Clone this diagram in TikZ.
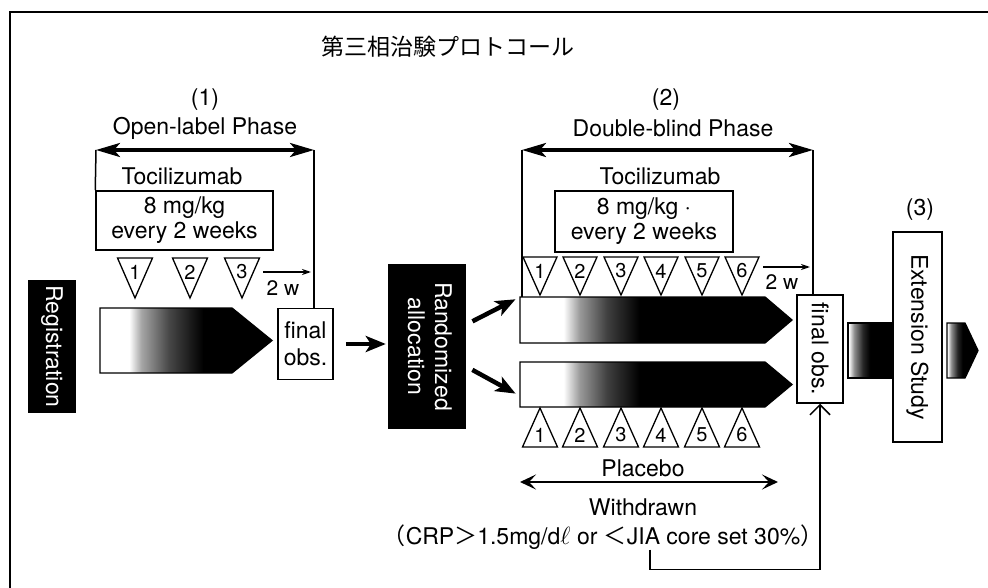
\documentclass[tikz,border=0pt]{standalone}
\usepackage{fontspec}
\setmainfont{TeX Gyre Heros}
\newfontfamily\cjk{Noto Sans CJK JP}
\usepackage{graphicx}
\usepackage{tikz}
\usetikzlibrary{shapes.symbols, arrows.meta, calc}
% dosing bars fade from white into black
\pgfdeclarehorizontalshading{longfade}{100bp}{color(0bp)=(white); color(33.5bp)=(white);
  color(37bp)=(black!35); color(45bp)=(black!72); color(55bp)=(black); color(100bp)=(black)}
\pgfdeclarehorizontalshading{barfade}{100bp}{color(0bp)=(white); color(33bp)=(white);
  color(36bp)=(black!40); color(41bp)=(black!75); color(47bp)=(black); color(100bp)=(black)}
\pgfdeclarehorizontalshading{stubfade}{100bp}{color(0bp)=(white); color(26bp)=(white);
  color(32bp)=(black!45); color(42bp)=(black!85); color(50bp)=(black); color(100bp)=(black)}

\begin{document}
\begin{tikzpicture}[x=1pt, y=-1pt,
    font=\fontsize{23}{27}\selectfont,
    every node/.style={inner sep=0pt},
    blackbox/.style={rectangle, fill=black, text=white},
    box/.style={rectangle, draw, line width=1.5, align=center},
    bar/.style={draw, line width=1.3, line join=miter, shade, shading=barfade},
    tri/.style={draw, line width=1.3, line join=miter},
    num/.style={font=\fontsize{20}{20}\selectfont},
    rule/.style={line width=1.5},
    span/.style={<->, >={Stealth[length=24, width=14, inset=6]}, line width=3.5},
    thinspan/.style={<->, >={Stealth[length=16, width=15, inset=7]}, line width=2.5},
    fat/.style={-{Stealth[length=20, width=16, inset=5]}, line width=4.5},
    wk/.style={-{Stealth[length=9, width=6]}, line width=1.5},
    back/.style={-{Straight Barb[length=10, width=20]}, line width=1.5}
  ]
  \useasboundingbox (0,0) rectangle (988,588);
  % Frame
  \draw[line width=1.8] (10,588) -- (10,12) -- (988,12);
  % Title
  \node[font=\fontsize{23}{27}\cjk] (title) at (448,47) {第三相治験プロトコール};

  % Registration
  \node[blackbox, minimum width=48, minimum height=133] (reg) at (52,346.5)
    {\rotatebox{-90}{Registration}};

  % Open-label phase
  \node (ph1num) at (205,100) {(1)};
  \node (ph1name) at (205,128) {Open-label Phase};
  \coordinate (s1a) at (96,150);
  \coordinate (s1b) at (314,150);
  \node (toc1) at (182,176) {Tocilizumab};
  \node[box, minimum width=177, minimum height=59, font=\fontsize{23}{25}\selectfont]
    (dose1) at (184.5,220.5) {8 mg/kg\\every 2 weeks};
  \foreach \i/\x in {1/135, 2/190, 3/242} {
    \draw[tri] (\x-17.5,258) -- (\x+17.5,258) -- (\x,298) -- cycle;
    \node[num] (t1\i) at (\x,272) {\i};
  }
  \coordinate (w1a) at (263,272);
  \coordinate (w1b) at (311,272);
  \node[font=\fontsize{21}{21}\selectfont] (w1) at (283,288) {2 w};
  \draw[bar, shading=longfade] (100,308) -- (232,308) -- (272,340.5) -- (232,373) -- (100,373) -- cycle;
  \node[box, minimum width=55, minimum height=71] (fin1) at (305.5,344) {final\\obs.};
  \draw[span] (s1a) -- (s1b);
  \draw[rule] (s1a) -- (dose1.north west);
  \draw[rule] (s1b) -- (s1b |- fin1.north);
  \draw[wk] (w1a) -- (w1b);

  % Randomization
  \node[blackbox, minimum width=78, minimum height=165] (rand) at (427,346.5)
    {\rotatebox{-90}{\begin{tabular}{@{}c@{}}Randomized\\allocation\end{tabular}}};
  \draw[fat, shorten <=12, shorten >=2] (fin1.east) -- (fin1.east -| rand.west);

  % Double-blind phase
  \node (ph2num) at (666,100) {(2)};
  \node (ph2name) at (673,128) {Double-blind Phase};
  \coordinate (s2a) at (522,150);
  \coordinate (s2b) at (813,150);
  \node (toc2) at (660,176) {Tocilizumab};
  \node[box, minimum width=178, minimum height=61, font=\fontsize{23}{25}\selectfont]
    (dose2) at (644,221.5) {8 mg/kg ·\\every 2 weeks};
  % treatment arm on top, placebo arm below
  \coordinate (bar2u) at (520,297);
  \coordinate (bar2l) at (520,396);
  \draw[bar] (520,297) -- (765,297) -- (792,320) -- (765,343) -- (520,343) -- cycle;
  \draw[bar] (520,362) -- (765,362) -- (792,384.5) -- (765,407) -- (520,407) -- cycle;
  \foreach \i/\x in {1/540, 2/580, 3/621, 4/661, 5/702, 6/742} {
    \draw[tri] (\x-17,257) -- (\x+17,257) -- (\x,295) -- cycle;
    \node[num] (t2\i) at (\x,271) {\i};
    \draw[tri] (\x-17.5,447) -- (\x+17.5,447) -- (\x,408) -- cycle;
    \node[num] (p2\i) at (\x,435) {\i};
  }
  \coordinate (w2a) at (763,267);
  \coordinate (w2b) at (810,267);
  \node[font=\fontsize{21}{21}\selectfont] (w2) at (782,282) {2 w};
  \node[box, minimum width=46, minimum height=108] (fin2) at (820,349)
    {\rotatebox{-90}{final obs.}};
  \draw[span] (s2a) -- (s2b);
  \draw[rule] (s2a) -- (s2a |- bar2u);
  \draw[rule] (s2b) -- (s2b |- fin2.north);
  \draw[wk] (w2a) -- (w2b);
  \draw[fat, shorten <=7, shorten >=5] ([yshift=22pt]rand.east) -- (bar2u);
  \draw[fat, shorten <=7, shorten >=5] ([yshift=-20pt]rand.east) -- (bar2l);

  % Placebo and withdrawal
  \node (plac) at (643,468) {Placebo};
  \coordinate (plL) at (520,482);
  \coordinate (plR) at (778,482);
  \draw[thinspan] (plL) -- (plR);
  \node (wd) at (643,507) {Withdrawn};
  \node (crp) at (603,537) {{\cjk （}CRP{\cjk ＞}1.5mg/d$\ell$ or {\cjk ＜}JIA core set 30\%{\cjk ）}};
  \draw[back] ([xshift=47pt]crp.south) -- ++(0,20) -| (fin2.south);

  % Extension study
  \node[rectangle, draw, line width=1.3, shade, shading=stubfade,
    minimum width=44, minimum height=55] (stub1) at (870,350.5) {};
  \node (ph3num) at (920,210) {(3)};
  \node[box, minimum width=49, minimum height=210] (ext) at (917.5,337)
    {\rotatebox{-90}{Extension Study}};
  \draw[bar, shading=stubfade] (947,323) -- (965,323) -- (978,350.5) -- (965,378) -- (947,378) -- cycle;
\end{tikzpicture}
\end{document}
